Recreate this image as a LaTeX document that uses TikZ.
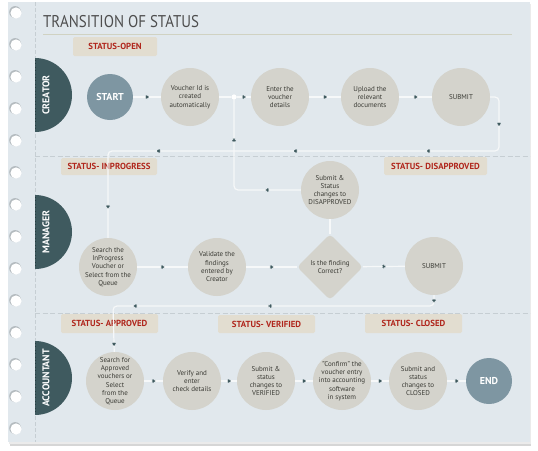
\documentclass[tikz,border=0pt]{standalone}
\usepackage{fontspec}
\setmainfont{PT Sans}
\usetikzlibrary{shapes.geometric}
\definecolor{paper}{HTML}{E1E8ED}
\definecolor{holesh}{HTML}{B4BBBF}
\definecolor{dashc}{HTML}{C6CED3}
\definecolor{lanec}{HTML}{3F5A5F}
\definecolor{laned}{HTML}{283C40}
\definecolor{ngrey}{HTML}{D4D3CC}
\definecolor{slate}{HTML}{7E96A2}
\definecolor{tdark}{HTML}{3A3A34}
\definecolor{sbg}{HTML}{E2DDD0}
\definecolor{sred}{HTML}{B0261C}
\definecolor{titlec}{HTML}{4E4E4E}
\definecolor{tline}{HTML}{D0D2C2}
\definecolor{connc}{HTML}{F6F8F9}
\begin{document}
\begin{tikzpicture}[x=1pt,y=-1pt,
  proc/.style={circle, fill=ngrey, minimum size=58pt, inner sep=0pt},
  term/.style={circle, fill=slate, minimum size=46pt, inner sep=0pt, text=white, font=\bfseries\fontsize{10}{12}\selectfont},
  dia/.style={diamond, aspect=1, fill=ngrey, minimum width=66pt, minimum height=66pt, inner sep=0pt, rounded corners=4pt},
  ptxt/.style={align=center, inner sep=0pt, text=tdark, font=\fontsize{7}{8.3}\selectfont},
  stat/.style={rectangle, fill=sbg, rounded corners=1.5pt, inner sep=0pt, text=sred, font=\bfseries\fontsize{8.8}{10}\selectfont},
  lanelbl/.style={rotate=90, text=white, inner sep=0pt, font=\bfseries\fontsize{9.8}{11}\selectfont},
  conn/.style={draw=connc, line width=1.2pt, rounded corners=4pt},
  mk/.style={sloped, allow upside down, regular polygon, regular polygon sides=3, shape border rotate=90, fill=lanec, inner sep=0pt, minimum size=6.5pt},
  jdot/.style={circle, fill=white, minimum size=5pt, inner sep=0pt}
]
\useasboundingbox (0,0) rectangle (538,450);
\fill[white] (0,0) rectangle (538,450);
% paper with shadow
\fill[black!16] (10,6) rectangle (531,446);
\fill[black!8] (9,4) rectangle (531,444);
\fill[paper] (8,2) rectangle (530,442);
% punched holes
\foreach \i in {0,...,13} {
  \fill[holesh] (15.2,{13+32*\i-0.9}) circle[radius=6pt];
  \fill[white] (16,{13+32*\i}) circle[radius=5.6pt];
}
% margin line, title rule, lane dividers
\draw[dashc, line width=0.6pt, dash pattern=on 4pt off 2pt] (35,2) -- (35,442);
\draw[tline, line width=0.8pt] (43,34) -- (512,34);
\draw[dashc, line width=0.7pt, dash pattern=on 5pt off 2.5pt] (35,156) -- (530,156);
\draw[dashc, line width=0.7pt, dash pattern=on 5pt off 2.5pt] (35,313) -- (530,313);
% lane half discs
\foreach \y in {95,232,378} {
  \begin{scope}
    \clip (35,{\y-40}) rectangle (80,{\y+40});
    \fill[lanec] (35,\y) circle[radius=37pt];
  \end{scope}
  \draw[laned, line width=1.4pt, dash pattern=on 0.8pt off 2.6pt] (35.6,{\y-35}) -- (35.6,{\y+35});
}
\node[lanelbl] (lcre) at (46,95) {CREATOR};
\node[lanelbl] (lman) at (46,232) {MANAGER};
\node[lanelbl] (lacc) at (46,378) {ACCOUNTANT};
% title
\node[anchor=base west, inner sep=0pt, xscale=0.88, text=titlec, font=\fontsize{17}{19}\selectfont] (title) at (43,27) {TRANSITION OF STATUS};
% status labels
\node[stat, minimum width=84pt, minimum height=19pt] (sopen) at (115,46.5) {STATUS-OPEN};
\node[stat, minimum width=96pt, minimum height=17pt] (sinp) at (109,166.5) {STATUS- INPROGRESS};
\node[stat, minimum width=103pt, minimum height=18pt] (sdis) at (435.5,166) {STATUS- DISAPPROVED};
\node[stat, minimum width=97pt, minimum height=19pt] (sapp) at (109.5,323.5) {STATUS- APPROVED};
\node[stat, minimum width=97pt, minimum height=18pt] (sver) at (266.5,324) {STATUS- VERIFIED};
\node[stat, minimum width=97pt, minimum height=19pt] (sclo) at (413.5,323.5) {STATUS- CLOSED};
% creator row
\node[term] (start) at (110,97) {START};
\node[proc, label={[ptxt]center:{Voucher Id is\\created\\automatically}}] (vid) at (190,97) {};
\node[proc, label={[ptxt]center:{Enter the\\voucher\\details}}] (enter) at (280,97) {};
\node[proc, label={[ptxt]center:{Upload the\\relevant\\documents}}] (upload) at (370,97) {};
\node[proc, label={[ptxt]center:{SUBMIT}}] (sub1) at (461,97) {};
\node[jdot] (J) at (234,97) {};
% manager row
\node[proc, label={[ptxt]center:{Submit \&\\Status\\changes to\\DISAPPROVED}}] (dis) at (330,190) {};
\node[proc, label={[ptxt]center:{Search the\\InProgress\\Voucher or\\Select from the\\Queue}}] (srch1) at (108,267) {};
\node[proc, label={[ptxt]center:{Validate the\\findings\\entered by\\Creator}}] (val) at (217,267) {};
\node[dia, label={[ptxt]center:{Is the finding\\Correct?}}] (chk) at (330,267) {};
\node[proc, label={[ptxt]center:{SUBMIT}}] (sub2) at (434,266) {};
% accountant row
\node[proc, label={[ptxt]center:{Search for\\Approved\\vouchers or\\Select\\from the\\Queue}}] (srch2) at (115,381) {};
\node[proc, label={[ptxt]center:{Verify and\\enter\\check details}}] (verify) at (192,381) {};
\node[proc, label={[ptxt]center:{Submit \&\\status\\changes to\\VERIFIED}}] (sver2) at (266,381) {};
\node[proc, label={[ptxt]center:{"Confirm" the\\voucher entry\\into accounting\\software\\in system}}] (conf) at (342,381) {};
\node[proc, label={[ptxt]center:{Submit and\\status\\changes to\\CLOSED}}] (sclo2) at (418,381) {};
\node[term] (end) at (489,381) {END};
% bend points
\coordinate (c1) at (499,97);
\coordinate (c2) at (499,151);
\coordinate (c3) at (108,151);
\coordinate (c4) at (234,190);
\coordinate (c5) at (434,306);
\coordinate (c6) at (113,306);
% connectors
\draw[conn] (start) -- node[mk]{} (vid);
\draw[conn] (vid) -- (J);
\draw[conn] (J) -- node[mk]{} (enter);
\draw[conn] (enter) -- node[mk]{} (upload);
\draw[conn] (upload) -- node[mk]{} (sub1);
\draw[conn] (sub1) -- (c1) -- node[mk]{} (c2) -- node[mk,pos=0.18]{} node[mk,pos=0.52]{} node[mk,pos=0.87]{} (c3) -- node[mk,pos=0.64]{} (srch1);
\draw[conn] (chk) -- (dis);
\draw[conn] (dis) -- node[mk]{} (c4) -- node[mk,pos=0.55]{} (J);
\node[jdot] at (J) {};
\draw[conn] (srch1) -- node[mk]{} (val);
\draw[conn] (val) -- node[mk]{} (chk);
\draw[conn] (chk) -- node[mk]{} (sub2);
\draw[conn] (sub2) -- node[mk]{} (c5) -- node[mk,pos=0.51]{} node[mk,pos=0.93]{} (c6) -- node[mk,pos=0.83]{} (srch2);
\draw[conn] (srch2) -- node[mk]{} (verify);
\draw[conn] (verify) -- node[mk]{} (sver2);
\draw[conn] (sver2) -- node[mk]{} (conf);
\draw[conn] (conf) -- node[mk]{} (sclo2);
\draw[conn] (sclo2) -- node[mk]{} (end);
\end{tikzpicture}
\end{document}
